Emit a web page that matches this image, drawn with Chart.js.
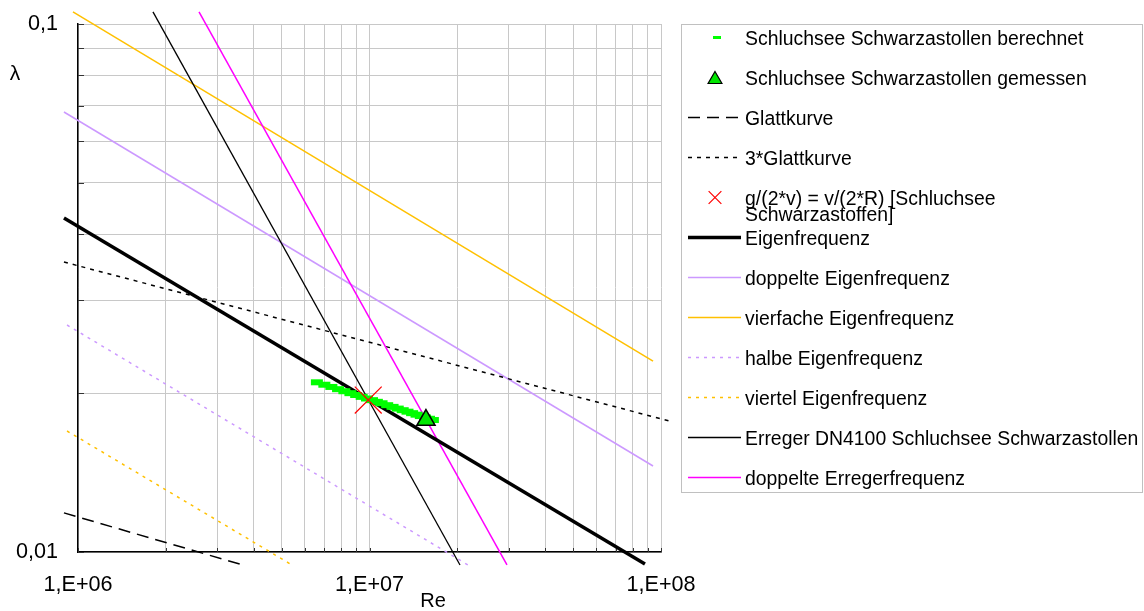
<!DOCTYPE html>
<html>
<head>
<meta charset="utf-8">
<script src="https://cdn.jsdelivr.net/npm/chart.js@4.4.1/dist/chart.umd.min.js"></script>
<style>
  html, body { margin: 0; padding: 0; background: #fff; }
  #wrap { position: relative; width: 1144px; height: 611px; }
</style>
</head>
<body>
<div id="wrap"><canvas id="chart"></canvas></div>
<script>
// --- Data (Re, lambda) ---
const xTicks = [1e6, 2e6, 3e6, 4e6, 5e6, 6e6, 7e6, 8e6, 9e6,
                1e7, 2e7, 3e7, 4e7, 5e7, 6e7, 7e7, 8e7, 9e7, 1e8];
const yTicks = [0.01, 0.02, 0.03, 0.04, 0.05, 0.06, 0.07, 0.08, 0.09, 0.1];
const xTickLabels = { 1e6: '1,E+06', 1e7: '1,E+07', 1e8: '1,E+08' };
const yTickLabels = { 0.01: '0,01', 0.1: '0,1' };

const berechnetRe  = [6.6e6, 7.0e6, 7.4e6, 7.8e6, 8.2e6, 8.6e6, 9.0e6, 9.4e6, 9.8e6, 10.2e6, 10.6e6, 11.0e6,
                      11.5e6, 12.0e6, 12.5e6, 13.0e6, 13.5e6, 14.0e6, 14.5e6, 15.0e6, 15.5e6, 16.0e6, 16.5e6];
const berechnetLam = [0.02096, 0.02074, 0.02054, 0.02034, 0.02016, 0.01999, 0.01983, 0.01967, 0.01953, 0.01939, 0.01925, 0.01913,
                      0.01897, 0.01883, 0.01869, 0.01856, 0.01844, 0.01832, 0.01820, 0.01809, 0.01798, 0.01788, 0.01778];
const gemessenRe = [1.562e7];
const gemessenLam = [0.01778];
const glattRe = [8.95e5, 3.68e6];
const glattLam = [0.01186, 0.00945];
const glatt3Re = [8.95e5, 1.1e8];
const glatt3Lam = [0.03541, 0.01763];
const kreuzRe = [9.9e6];
const kreuzLam = [0.0194];
const eigenRe = [8.95e5, 8.81e7];
const eigenLam = [0.04292, 0.00949];
const eigen2Re = [8.95e5, 9.39e7];
const eigen2Lam = [0.06813, 0.01455];
const eigen4Re = [9.61e5, 9.39e7];
const eigen4Lam = [0.1054, 0.02299];
const eigenHalbRe = [9.17e5, 2.177e7];
const eigenHalbLam = [0.02691, 0.00945];
const eigenViertelRe = [9.17e5, 5.42e6];
const eigenViertelLam = [0.01695, 0.00945];
const erregerRe = [1.808e6, 2.044e7];
const erregerLam = [0.1054, 0.00945];
const erreger2Re = [2.601e6, 2.962e7];
const erreger2Lam = [0.1054, 0.00945];

const FONT = '"Liberation Sans", Arial, sans-serif';

function pts(xs, ys) {
    return xs.map((x, i) => ({ x: x, y: ys[i] }));
}

function lineSet(label, xs, ys, color, width, dash, order) {
    return {
        label: label, data: pts(xs, ys), showLine: true, tension: 0,
        borderColor: color, backgroundColor: color, borderWidth: width,
        borderDash: dash, pointRadius: 0, pointHoverRadius: 0, clip: false, order: order
    };
}

const datasets = [
    {
        label: 'Schluchsee Schwarzastollen berechnet', data: pts(berechnetRe, berechnetLam),
        showLine: false, pointStyle: 'line', pointRadius: 6, pointBorderWidth: 6,
        borderColor: '#00ff00', backgroundColor: '#00ff00', clip: false, order: 2,
        legendRadius: 4, legendBorder: 3
    },
    {
        label: 'Schluchsee Schwarzastollen gemessen', data: pts(gemessenRe, gemessenLam),
        showLine: false, pointStyle: 'triangle', pointRadius: 10.5, pointBorderWidth: 1.5,
        borderColor: '#000000', backgroundColor: '#00e600', clip: false, order: 0,
        legendRadius: 8, legendBorder: 1.2
    },
    lineSet('Glattkurve', glattRe, glattLam, '#000000', 1.5, [12, 7], 10),
    lineSet('3*Glattkurve', glatt3Re, glatt3Lam, '#000000', 1.5, [4, 5], 10),
    {
        label: 'g/(2*v) = v/(2*R) [Schluchsee Schwarzastoffen]', data: pts(kreuzRe, kreuzLam),
        showLine: false, pointStyle: 'crossRot', pointRadius: 19, pointBorderWidth: 1.2,
        borderColor: '#ff0000', backgroundColor: '#ff0000', clip: false, order: 0,
        legendRadius: 9, legendBorder: 1.2
    },
    lineSet('Eigenfrequenz', eigenRe, eigenLam, '#000000', 3.5, [], 5),
    lineSet('doppelte Eigenfrequenz', eigen2Re, eigen2Lam, '#cc99ff', 1.5, [], 10),
    lineSet('vierfache Eigenfrequenz', eigen4Re, eigen4Lam, '#ffc000', 1.5, [], 10),
    lineSet('halbe Eigenfrequenz', eigenHalbRe, eigenHalbLam, '#cc99ff', 1.5, [3, 5], 10),
    lineSet('viertel Eigenfrequenz', eigenViertelRe, eigenViertelLam, '#ffc000', 1.5, [3, 5], 10),
    lineSet('Erreger DN4100 Schluchsee Schwarzastollen', erregerRe, erregerLam, '#000000', 1.3, [], 8),
    lineSet('doppelte Erregerfrequenz', erreger2Re, erreger2Lam, '#ff00ff', 1.5, [], 8)
];

// tick marks, axis titles and the boxed legend on the right
const overlayPlugin = {
    id: 'overlay',
    beforeDatasetsDraw(chart) {
        const ctx = chart.ctx, a = chart.chartArea;
        ctx.save();
        ctx.strokeStyle = '#333';
        ctx.lineWidth = 1;
        ctx.beginPath();
        xTicks.forEach(v => {
            const px = Math.round(chart.scales.x.getPixelForValue(v)) + 0.5;
            ctx.moveTo(px, a.bottom);
            ctx.lineTo(px, a.bottom - 4);
        });
        yTicks.forEach(v => {
            const py = Math.round(chart.scales.y.getPixelForValue(v)) + 0.5;
            ctx.moveTo(a.left, py);
            ctx.lineTo(a.left + 6, py);
        });
        ctx.stroke();
        ctx.restore();
    },
    afterDraw(chart) {
        const ctx = chart.ctx;
        ctx.save();
        // axis titles
        ctx.fillStyle = '#000';
        ctx.textAlign = 'center';
        ctx.textBaseline = 'middle';
        ctx.font = '21px ' + FONT;
        ctx.fillText('\u03bb', 15, 74);
        ctx.font = '20px ' + FONT;
        ctx.fillText('Re', 433, 601);

        // legend box
        const box = { left: 681, top: 24, right: 1142, bottom: 492 };
        ctx.fillStyle = '#fff';
        ctx.fillRect(box.left, box.top, box.right - box.left, box.bottom - box.top);
        ctx.strokeStyle = '#c0c0c0';
        ctx.lineWidth = 1;
        ctx.strokeRect(box.left + 0.5, box.top + 0.5, box.right - box.left, box.bottom - box.top);

        ctx.font = '19.4px ' + FONT;
        ctx.textAlign = 'left';
        ctx.textBaseline = 'alphabetic';
        const textX = 745, maxW = 398;
        chart.data.datasets.forEach((ds, i) => {
            const base = 45 + 40 * i;
            const sy = base - 7.5;
            ctx.setLineDash([]);
            if (ds.showLine) {
                ctx.strokeStyle = ds.borderColor;
                ctx.lineWidth = ds.borderWidth;
                ctx.setLineDash(ds.borderDash || []);
                ctx.beginPath();
                ctx.moveTo(688, sy);
                ctx.lineTo(741, sy);
                ctx.stroke();
                ctx.setLineDash([]);
            } else {
                ctx.strokeStyle = ds.borderColor;
                ctx.fillStyle = ds.backgroundColor;
                ctx.lineWidth = ds.legendBorder;
                const cx = ds.pointStyle === 'line' ? 717 : 715;
                Chart.helpers.drawPoint(ctx, {
                    pointStyle: ds.pointStyle, rotation: 0,
                    radius: ds.legendRadius, borderWidth: ds.legendBorder
                }, cx, sy + (ds.pointStyle === 'triangle' ? 2 : 0));
            }
            // simple word wrap
            ctx.fillStyle = '#000';
            const words = ds.label.split(' ');
            const lines = [];
            let cur = '';
            words.forEach(w => {
                const t = cur ? cur + ' ' + w : w;
                if (ctx.measureText(t).width > maxW && cur) {
                    lines.push(cur);
                    cur = w;
                } else {
                    cur = t;
                }
            });
            lines.push(cur);
            lines.forEach((l, k) => ctx.fillText(l, textX, base + 16 * k));
        });
        ctx.restore();
    }
};

const tickFont = { family: FONT, size: 21.6 };

function noPad(s) {
    s.paddingTop = 0;
    s.paddingBottom = 0;
    s.paddingLeft = 0;
    s.paddingRight = 0;
}

new Chart(document.getElementById('chart'), {
    type: 'scatter',
    data: { datasets: datasets },
    options: {
        responsive: true,
        maintainAspectRatio: false,
        animation: false,
        events: [],
        layout: { padding: { left: 0, top: 24, right: 483, bottom: 0 } },
        plugins: { legend: { display: false }, tooltip: { enabled: false } },
        scales: {
            x: {
                type: 'logarithmic', min: 1e6, max: 1e8,
                afterBuildTicks: s => { s.ticks = xTicks.map(v => ({ value: v })); },
                afterFit: s => { s.height = 59; noPad(s); },
                grid: { color: '#c8c8c8', lineWidth: 1, drawTicks: false },
                border: { color: '#000', width: 1.5 },
                ticks: {
                    autoSkip: false, maxRotation: 0, padding: 20, color: '#000', font: tickFont,
                    callback: v => xTickLabels[v] || ''
                }
            },
            y: {
                type: 'logarithmic', min: 0.01, max: 0.1,
                afterBuildTicks: s => { s.ticks = yTicks.map(v => ({ value: v })); },
                afterFit: s => { s.width = 78; noPad(s); },
                grid: { color: '#c8c8c8', lineWidth: 1, drawTicks: false },
                border: { color: '#000', width: 1.5 },
                ticks: {
                    autoSkip: false, padding: 20, color: '#000', font: tickFont,
                    callback: v => yTickLabels[v] || ''
                }
            }
        }
    },
    plugins: [overlayPlugin]
});
</script>
</body>
</html>
